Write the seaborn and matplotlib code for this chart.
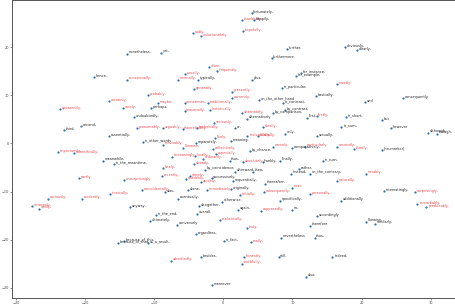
import matplotlib
matplotlib.use("Agg")
import matplotlib.pyplot as plt
import seaborn as sns
import pandas as pd

words = [
    "fortunately,", "thankfully,", "happily,", "sadly,", "unfortunately,", "hopefully,",
    "further,", "furthermore,", "nonetheless,", "yet,", "obviously,", "clearly,",
    "often,", "frequently,", "usually,", "for_instance,", "for_example,", "hence,",
    "occasionally,", "normally,", "typically,", "plus,", "mostly,", "generally,",
    "in_particular,", "presently,", "probably,", "basically,", "consequently", "currently,",
    "and", "on_the_other_hand", "in_contrast,", "certainly,", "maybe,", "sometimes,",
    "traditionally,", "surely,", "perhaps,", "seasonally,", "historically,", "apparently,",
    "alternately,", "alternatively", "by_contrast,", "by_comparison,", "first,", "firstly,",
    "or,", "ideally,", "seriously,", "meaning,", "individually,", "officially,",
    "only,", "actually,", "technically,", "likely,", "namely,", "by_chance,",
    "comparatively,", "particularly,", "especially,", "thus,", "absolutely,", "frankly,",
    "finally,", "in_turn,", "rather,", "instead,", "on_the_contrary,", "afterward,",
    "then,", "by_coincidence,", "successively,", "sequentially,", "thereafter,", "next,",
    "immediately,", "originally,", "personally,", "initially,", "subsequently,", "otherwise,",
    "specifically,", "again,", "supposedly,", "so,", "accordingly", "realistically,",
    "therefore", "truly,", "in_fact,", "really,", "nevertheless", "thus,",
    "honestly,", "truthfully,", "still,", "indeed,", "also,", "moreover",
    "ironically,", "coincidentally,", "alas,", "alone,", "eventually,", "altogether,",
    "anyway,", "in_the_end,", "overall,", "ultimately,", "conversely", "regardless,",
    "because_of_this,", "because_of_that,", "as_a_result,", "admittedly,", "besides,", "curiously,",
    "strangely,", "oddly,", "evidently,", "second,", "third,", "essentially,",
    "importantly,", "scientifically,", "meanwhile,", "in_the_meantime,", "partly,", "unsurprisingly,",
    "lately,", "recently,", "simply,", "suddenly,", "quickly,", "already,",
    "increasingly,", "locally,", "ordinarily,", "collectively,", "inevitably,", "likewise,",
    "separately,", "in_other_words", "presumably,", "arguably,", "theoretically,", "undoubtedly,",
    "in_short,", "in_sum,", "but", "however", "although,", "though,",
    "secondly,", "thirdly,", "[no-marker]", "naturally,", "notably,", "interestingly,",
    "surprisingly,", "additionally", "remarkably,", "predictably,", "likewise,", "similarly,",
]

x_vals = [
    4.1, 2.7, 4.5, -4.4, -3.2, 2.8,
    9.2, 7.0, -14.0, -9.0, 17.6, 19.3,
    -2.1, -0.9, -5.6, 11.3, 10.5, -18.7,
    -14.0, -6.6, -3.7, 4.1, 16.4, -4.3,
    8.5, 1.2, -10.9, 13.4, 26.0, 1.2,
    20.5, 5.1, 8.6, -16.5, -9.5, -5.6,
    -2.2, -14.5, -10.5, -5.6, -1.9, -23.6,
    2.7, 3.4, 8.9, 7.2, 12.1, 13.5,
    1.7, 5.7, -1.4, 1.1, 3.5, 5.0,
    8.9, 13.5, -3.8, -1.2, 7.2, 3.8,
    9.9, 11.8, -1.1, 0.9, 2.8, 5.7,
    8.2, 14.4, 10.9, 9.8, 12.5, 1.7,
    4.3, -2.7, -1.7, 1.4, 6.0, 9.9,
    -2.4, 1.1, 12.5, 2.4, 5.9, -0.2,
    8.2, 2.1, 5.4, 10.0, 13.5, -0.5,
    12.6, 3.5, 0.1, 4.0, 8.3, 13.2,
    3.0, 2.7, 8.0, 15.8, 11.9, -1.7,
    -16.4, -11.8, -8.5, -5.1, -6.6, -3.5,
    -13.5, -9.8, -3.8, -10.6, -6.7, -4.0,
    -14.4, -15.2, -10.9, -7.6, -3.2, -25.4,
    -27.7, -26.7, -20.5, -20.6, -23.1, -16.5,
    -23.9, -21.6, -17.4, -15.8, -20.9, -14.4,
    -8.7, -8.9, -4.8, -5.4, -3.2, -4.3,
    -7.4, -4.1, -3.0, -1.5, -8.7, -5.9,
    -4.0, -11.6, -12.5, -8.7, -5.9, -12.9,
    17.7, 17.1, 22.9, 24.2, 29.6, 30.9,
    16.4, 18.9, 22.9, 16.4, 20.6, 23.3,
    27.8, 17.1, 28.1, 29.4, 20.7, 21.9,
]

y_vals = [
    27.1, 25.6, 25.6, 22.9, 22.3, 23.3,
    19.6, 17.7, 18.6, 18.8, 20.0, 19.4,
    15.8, 15.0, 14.4, 14.6, 14.0, 13.8,
    13.2, 13.2, 13.2, 13.2, 12.3, 11.3,
    11.5, 10.7, 10.0, 9.8, 9.4, 9.4,
    8.6, 9.0, 8.4, 8.8, 8.4, 8.4,
    8.4, 7.3, 7.3, 6.7, 6.9, 7.1,
    6.3, 5.1, 6.9, 6.3, 5.3, 5.7,
    3.2, 3.4, 4.2, 0.5, 1.5, 1.5,
    2.0, 1.5, 3.2, 1.1, -0.7, -1.6,
    -1.0, -0.7, -2.2, -3.6, -3.9, -3.9,
    -3.6, -3.6, -5.3, -6.3, -6.3, -5.9,
    -5.9, -5.5, -7.2, -7.8, -8.4, -9.2,
    -9.7, -9.5, -10.5, -10.7, -10.1, -12.1,
    -11.9, -13.8, -14.0, -13.8, -15.1, -15.9,
    -17.1, -17.6, -20.2, -20.5, -19.6, -19.6,
    -23.6, -25.0, -23.6, -23.6, -27.7, -29.4,
    -10.5, -9.7, -10.1, -9.7, -11.5, -13.0,
    -13.2, -14.8, -14.6, -16.1, -16.9, -18.8,
    -20.2, -20.7, -20.7, -24.4, -23.6, -11.5,
    -13.0, -13.6, -11.5, 3.6, 2.8, 1.5,
    -1.8, -2.0, -3.6, -4.3, -7.2, -7.6,
    -5.1, -6.8, -6.8, -7.4, -8.0, -4.3,
    -2.8, -2.6, -3.2, -1.2, -0.3, -0.9,
    0.1, 0.3, 3.2, 3.2, 3.0, 5.5,
    5.5, 3.4, 4.8, 3.2, 2.2, 2.0,
    -0.7, -1.2, -1.4, -7.8, -6.3, -9.9,
    -10.1, -11.9, -12.6, -13.2, -16.3, -16.7,
]

R, K = "adverbial", "connective"
groups = [
    K, R, K, R, R, R,
    K, K, K, K, K, K,
    R, R, R, K, K, K,
    R, R, K, K, R, R,
    K, R, R, K, K, R,
    K, K, K, R, R, R,
    R, R, K, R, R, R,
    R, K, K, K, K, R,
    K, R, R, K, R, R,
    K, K, R, R, R, K,
    K, R, R, K, R, K,
    K, K, K, K, K, K,
    K, K, K, K, K, R,
    R, K, R, R, R, K,
    K, K, R, K, K, R,
    K, R, K, R, K, K,
    R, R, K, K, K, K,
    R, R, K, K, K, K,
    K, K, K, K, K, K,
    K, K, K, R, K, R,
    R, R, R, K, K, K,
    R, R, K, K, R, R,
    R, R, R, R, R, R,
    R, R, R, R, R, R,
    K, K, R, R, R, K,
    K, K, K, K, K, K,
    R, R, K, R, R, K,
    R, K, R, R, K, K,
]

df = pd.DataFrame({"x": x_vals, "y": y_vals, "word": words, "group": groups})

sns.set_style("white")
fig = plt.figure(figsize=(4.56, 3.08), dpi=100)
ax = fig.add_axes([0.0274, 0.0325, 0.970, 0.966])

sns.scatterplot(data=df, x="x", y="y", ax=ax, color="#2c6fb0", s=2.5,
                linewidth=0, legend=False, zorder=3)

label_colors = {R: "#e8474c", K: "#222222"}
for _, row in df.iterrows():
    ax.text(row["x"] + 0.25, row["y"] + 0.3, row["word"], fontsize=2.5,
            color=label_colors[row["group"]], ha="left", va="center", zorder=4)

ax.set_xlim(-30.5, 33.5)
ax.set_ylim(-32.1, 29.7)
ax.set_xticks([-30, -20, -10, 0, 10, 20, 30])
ax.set_yticks([-30, -20, -10, 0, 10, 20])
ax.set_xlabel("")
ax.set_ylabel("")
ax.tick_params(axis="both", labelsize=2.5, length=1.5, width=0.4, pad=1,
               colors="#444444", bottom=True, left=True)
for side, sp in ax.spines.items():
    sp.set_linewidth(0.7)
    sp.set_color("#555555")

fig.savefig("out.png", dpi=100)
